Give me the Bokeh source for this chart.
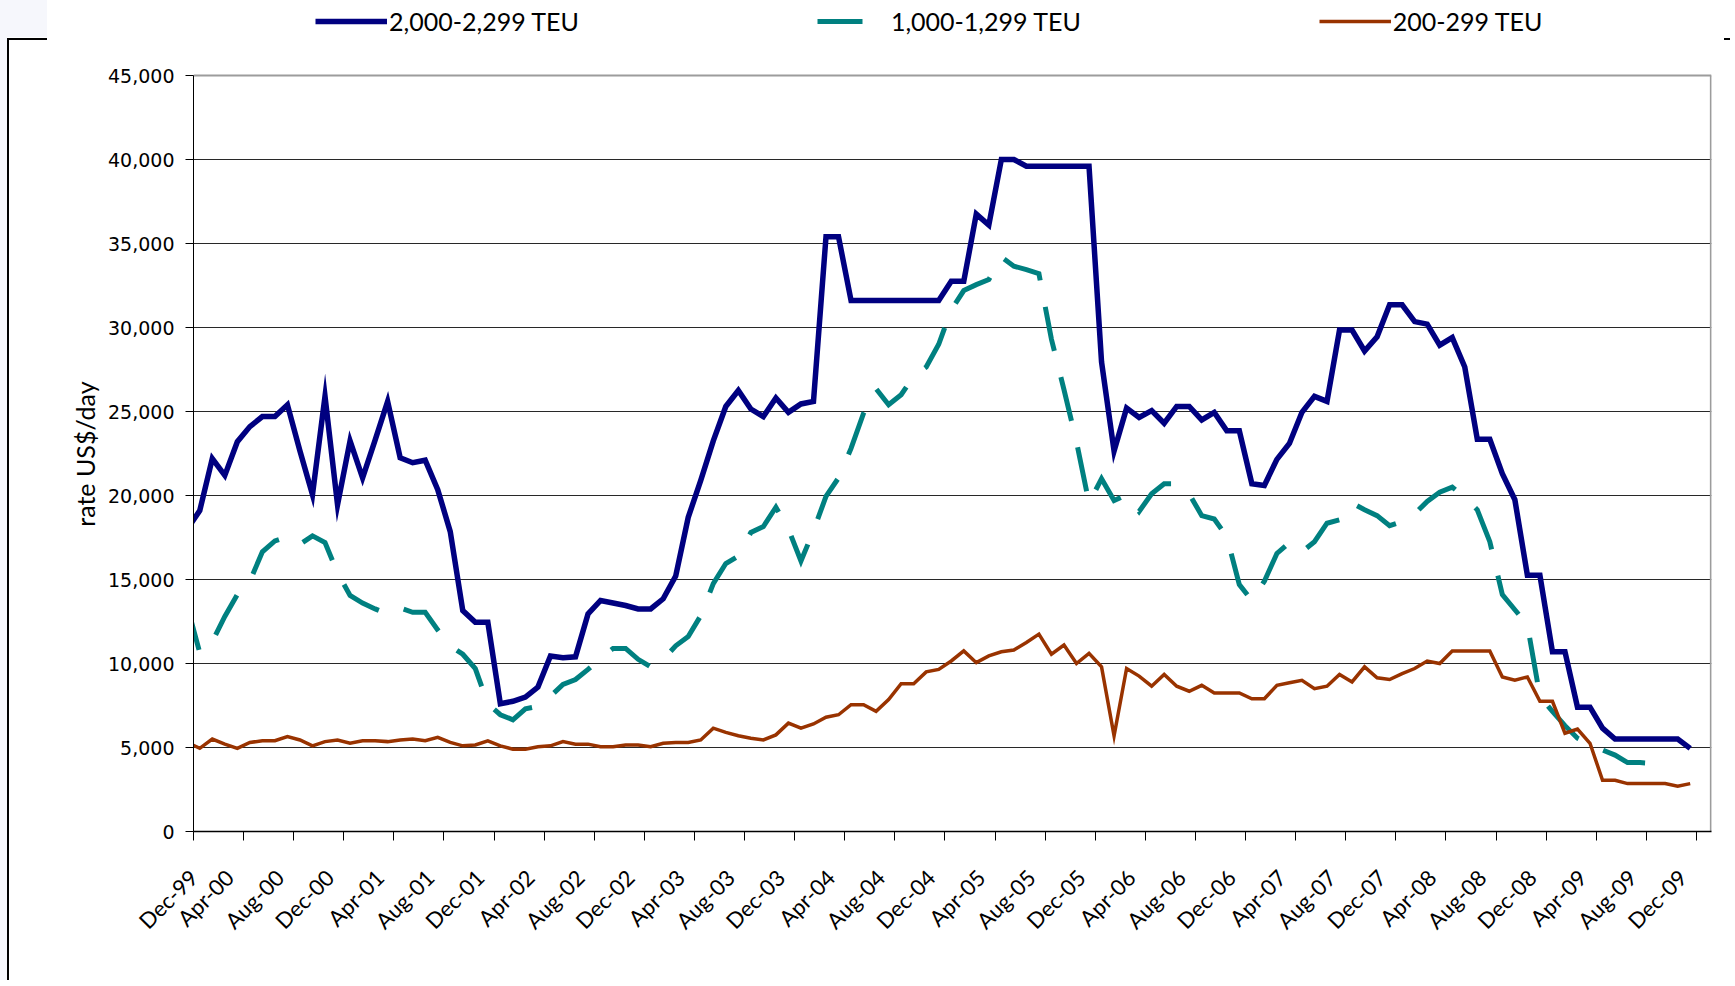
import math
import pandas as pd
from bokeh.plotting import figure
from bokeh.models import (Range1d, FixedTicker, LinearAxis, NumeralTickFormatter, Grid,
                          Legend, LegendItem)
from bokeh.embed import file_html
from bokeh.resources import INLINE

# ---------------- data (monthly, mid-month points, Nov-99 .. Nov-09) ----------------
months = pd.period_range("1999-11", periods=121, freq="M").strftime("%b-%y").tolist()

tick_labels = ["Dec-99", "Apr-00", "Aug-00", "Dec-00", "Apr-01", "Aug-01", "Dec-01", "Apr-02",
               "Aug-02", "Dec-02", "Apr-03", "Aug-03", "Dec-03", "Apr-04", "Aug-04", "Dec-04",
               "Apr-05", "Aug-05", "Dec-05", "Apr-06", "Aug-06", "Dec-06", "Apr-07", "Aug-07",
               "Dec-07", "Apr-08", "Aug-08", "Dec-08", "Apr-09", "Aug-09", "Dec-09"]

series_names = ["2,000-2,299 TEU", "1,000-1,299 TEU", "200-299 TEU"]
y_title = "rate US$/day"

teu_2000 = [18000, 19100,
            22200, 21200, 23200, 24100, 24700, 24700, 25400, 22650, 20050, 25900, 19450, 23250,
            21050, 23300, 25600, 22250, 21950, 22100, 20350, 17850, 13150, 12450, 12450, 7600,
            7750, 8000, 8600, 10450, 10350, 10400, 12950, 13750, 13600, 13450, 13250, 13250,
            13850, 15200, 18700, 20900, 23250, 25300, 26250, 25150, 24700, 25800, 24950, 25450,
            25600, 35400, 35400, 31600, 31600, 31600, 31600, 31600, 31600, 31600, 31600, 32750,
            32750, 36750, 36100, 40000, 40000, 39600, 39600, 39600, 39600, 39600, 39600, 27950,
            22650, 25200, 24650, 25050, 24300, 25300, 25300, 24500, 24950, 23850, 23850, 20700,
            20600, 22150, 23100, 24950, 25900, 25600, 29850, 29850, 28600, 29450, 31350, 31350,
            30350, 30200, 28950, 29400, 27650, 23350, 23350, 21300, 19750, 15250, 15250, 10700,
            10700, 7400, 7400, 6150, 5500, 5500, 5500, 5500, 5500, 5500, 4950]

nan = float("nan")
teu_1000 = [13400, 10650,
            11300, 12800, 14100, 14900, 16650, 17300, 17550, 17100, 17600, 17200, 15400, 14050,
            13600, 13250, 12950, 13300, 13050, 13050, 12000, 11050, 10550, 9700, 7600, 6950,
            6650, 7300, 7450, 8050, 8750, 9050, 9650, 10300, 10900, 10900, 10250, 9800,
            10250, 11050, 11600, 12850, 14750, 15950, 16400, 17800, 18150, 19300, 18000, 16100,
            17900, 19950, 21050, 22800, 24900, 26350, 25400, 26000, 27100, 27650, 29000, 31050,
            32200, 32550, 32850, 34200, 33650, 33450, 33200, 29300, 26300, 23200, 19550, 21000,
            19700, 20050, 19050, 20100, 20700, 20700, 20100, 18800, 18600, 17550, 14700, 13750,
            14900, 16550, 17200, 16650, 17250, 18350, 18550, 19550, 19150, 18800, 18200, 18450,
            18900, 19650, 20200, 20500, 19900, 19150, 17250, 14100, 13200, 12300, 8050, 7150,
            6300, 5550, 5200, 4850, 4550, 4100, 4100, 4050, 3950, nan, nan]

teu_200 = [5300, 4950,
           5500, 5200, 4950, 5300, 5400, 5400, 5650, 5450, 5100, 5350, 5450, 5250,
           5400, 5400, 5350, 5450, 5500, 5400, 5600, 5300, 5100, 5150, 5400, 5100,
           4900, 4900, 5050, 5100, 5350, 5200, 5200, 5050, 5050, 5150, 5150, 5050,
           5250, 5300, 5300, 5450, 6150, 5900, 5700, 5550, 5450, 5750, 6450, 6150,
           6400, 6800, 6950, 7550, 7550, 7150, 7850, 8800, 8800, 9500, 9650, 10150,
           10750, 10050, 10450, 10700, 10800, 11250, 11750, 10550, 11100, 10000, 10600, 9800,
           5700, 9700, 9250, 8650, 9350, 8650, 8350, 8700, 8250, 8250, 8250, 7900,
           7900, 8700, 8850, 9000, 8500, 8650, 9350, 8900, 9800, 9150, 9050, 9400,
           9700, 10150, 10000, 10750, 10750, 10750, 10750, 9200, 9000, 9200, 7750, 7750,
           5850, 6100, 5250, 3050, 3050, 2850, 2850, 2850, 2850, 2700, 2850]

# month index -> axis position (points sit mid-month; axis starts at 1 Dec 1999)
xpos = [i - 0.5 for i in range(len(months))]
tick_pos = list(range(0, 121, 4))
# label anchors sit a little left of each tick (first one cannot leave the plot area)
SHIFT = 1.12
label_pos = [0.0] + [round(t - SHIFT, 2) for t in tick_pos[1:]]

Y_MAX = 45000
y_ticks = list(range(0, Y_MAX + 1, 5000))

# ---------------- figure ----------------
# plot area: x 193..1711, y 75..831 ; the frame reaches up to the top so the legend can sit there
FL, PT, FW, PH = 193, 75, 1518, 756
W, H = 1730, 980
FH = PT + PH
FR, FB = W - FL - FW, H - FH
X_END = 121.2
Y_TOP = Y_MAX * FH / PH

frame_css = {
    "background-color": "#ffffff",
    "background-image": ", ".join(["linear-gradient(#000000, #000000)"] * 3 +
                                  ["linear-gradient(#f6f7fc, #f6f7fc)"] * 2),
    "background-size": "2px 2000px, 40px 2px, 12px 2px, 7px 2000px, 47px 37px",
    "background-position": "7px 38px, 7px 38px, 1724px 38px, 0px 0px, 0px 0px",
    "background-repeat": "no-repeat",
}

p = figure(frame_width=FW, frame_height=FH, output_backend="svg", toolbar_location=None,
           x_range=Range1d(0, X_END), y_range=Range1d(0, Y_TOP),
           x_axis_type=None, y_axis_type=None,
           min_border_left=FL, min_border_top=0, min_border_right=FR, min_border_bottom=FB,
           styles=frame_css)
p.background_fill_color = "white"
p.border_fill_color = None
p.outline_line_color = None

# y axis (title padded with no-break spaces so it centres on the plot area, not the frame)
yax = LinearAxis(ticker=FixedTicker(ticks=y_ticks, minor_ticks=[]), bounds=(0, Y_MAX),
                 formatter=NumeralTickFormatter(format="0,0"),
                 axis_label=y_title + "\u00a0" * 12, axis_label_text_font="Lato",
                 axis_label_text_font_size="25px", axis_label_text_font_style="normal",
                 axis_label_text_color="black", axis_label_standoff=5,
                 major_label_text_font="DejaVu Sans", major_label_text_font_size="19px",
                 major_label_text_color="black", major_label_standoff=11,
                 major_tick_out=8, major_tick_in=0, minor_tick_out=0, minor_tick_in=0,
                 axis_line_color="black", axis_line_width=1, major_tick_line_color="black")
p.add_layout(yax, "left")
p.add_layout(Grid(dimension=1, ticker=FixedTicker(ticks=y_ticks[1:-1], minor_ticks=[]),
                  grid_line_color="#111111", grid_line_width=1, grid_line_alpha=0.9))

# x axis: tick marks
xax = LinearAxis(ticker=FixedTicker(ticks=tick_pos, minor_ticks=[]),
                 major_label_overrides={t: "" for t in tick_pos},
                 major_label_text_font_size="1px", major_label_standoff=0,
                 major_tick_out=9, major_tick_in=0, minor_tick_out=0, minor_tick_in=0,
                 axis_line_color="black", axis_line_width=1.5, major_tick_line_color="black")
p.add_layout(xax, "below")

# x axis: month labels
lab = LinearAxis(ticker=FixedTicker(ticks=label_pos, minor_ticks=[]),
                 major_label_overrides={t: s for t, s in zip(label_pos, tick_labels)},
                 major_label_orientation=math.pi / 4,
                 major_label_text_font="Lato", major_label_text_font_size="22px",
                 major_label_text_color="black", major_label_standoff=33,
                 major_tick_out=0, major_tick_in=0, minor_tick_out=0, minor_tick_in=0,
                 axis_line_color=None, major_tick_line_color=None, minor_tick_line_color=None)
p.add_layout(lab, "below")

# plot-area border (top and right, grey)
p.line([0, X_END], [Y_MAX, Y_MAX], line_color="#9c9c9c", line_width=2)
p.line([X_END - 0.05, X_END - 0.05], [0, Y_MAX], line_color="#9c9c9c", line_width=2)

# ---------------- lines ----------------
r1 = p.line(xpos, teu_2000, line_color="#000080", line_width=5.5, line_join="miter")
r2 = p.line(xpos, teu_1000, line_color="#008080", line_width=5, line_dash="45 27",
            line_cap="butt", line_join="miter")
r3 = p.line(xpos, teu_200, line_color="#993300", line_width=3.5, line_join="miter")

legend = Legend(items=[LegendItem(label=series_names[0], renderers=[r1]),
                       LegendItem(label=series_names[1], renderers=[r2]),
                       LegendItem(label=series_names[2], renderers=[r3])],
                orientation="horizontal", location=(122, FH - 6 - 30),
                glyph_width=72, glyph_height=30, label_height=30, label_width=188,
                label_standoff=2, spacing=238, padding=0, margin=0,
                border_line_color=None, background_fill_alpha=0,
                label_text_font="Lato", label_text_font_size="25px", label_text_color="black")
p.add_layout(legend, "center")

open("out.html", "w").write(file_html(p, INLINE))
